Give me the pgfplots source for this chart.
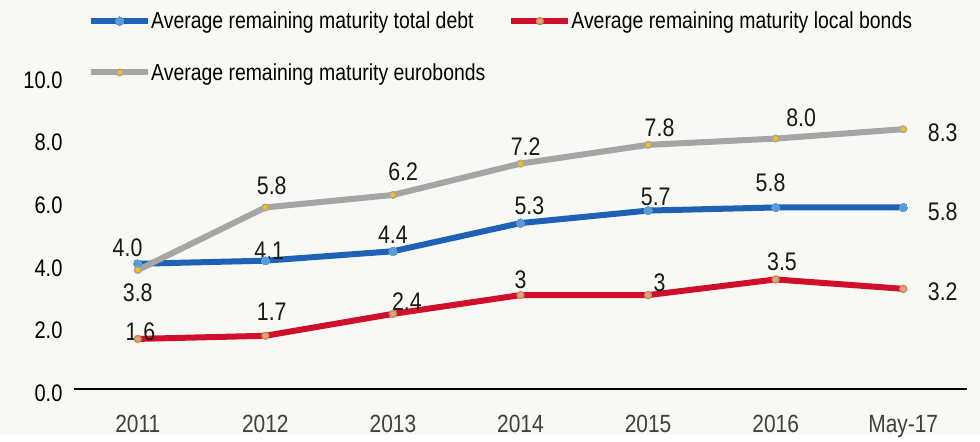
\documentclass[border=0pt]{standalone}
\usepackage{fontspec}
\setmainfont{Liberation Sans}[FakeStretch=0.84]
\usepackage{pgfplots}
\pgfplotsset{compat=1.18}
\definecolor{bg}{HTML}{F8F9F5}
\definecolor{cblue}{HTML}{1F61B4}
\definecolor{cblueM}{HTML}{5B9BD5}
\definecolor{cred}{HTML}{CF0F2C}
\definecolor{corange}{HTML}{ED7D31}
\definecolor{cgrey}{HTML}{A5A5A5}
\definecolor{cgold}{HTML}{FFC000}
\tikzset{lbl/.style={font=\fontsize{25.5}{29}\selectfont, inner sep=0pt, anchor=center, text=black!90}}
\begin{document}
\begin{tikzpicture}
\fill[bg] (-74bp,-46bp) rectangle (906bp,389bp);
\begin{axis}[
 at={(0,0)}, anchor=south west,
 scale only axis, width=893bp, height=313bp,
 xmin=-0.5, xmax=6.5, ymin=0, ymax=10,
 xtick={0,...,6}, xticklabels={2011,2012,2013,2014,2015,2016,May-17},
 ytick={0,2,...,10},
 axis x line*=bottom, axis y line*=left,
 y axis line style={draw=none},
 x axis line style={black, line width=1.3bp, -},
 major tick length=0pt,
 /pgf/number format/assume math mode=true,
 yticklabel style={font=\fontsize{24}{28}\selectfont, xshift=-8bp, yshift=-4bp, /pgf/number format/.cd, fixed, fixed zerofill, precision=1},
 xticklabel style={font=\fontsize{25}{29}\selectfont, text=black!75, yshift=-23bp},
 clip=false,
 legend columns=2,
 legend cell align=left,
 legend style={draw=none, fill=none, inner sep=0pt,
   at={(axis description cs:0.0157,1.205)}, anchor=north west,
   font=\fontsize{23.2}{27}\selectfont,
   nodes={inner sep=0pt, anchor=west},
   row sep=33bp,
   /tikz/every even column/.append style={column sep=23bp},
   /tikz/every odd column/.append style={column sep=0bp}},
 legend image code/.code={\draw[mark repeat=2, mark phase=2, #1] plot coordinates {(0bp,0bp) (28.5bp,0bp) (57bp,0bp)};},
]
\addplot[cblue, line width=6bp, line join=round, mark=*, mark size=4.2bp, mark options={fill=cblueM, draw=cblueM, line width=0pt}]
 coordinates {(0,4.0)(1,4.1)(2,4.4)(3,5.3)(4,5.7)(5,5.8)(6,5.8)};
\addlegendentry{Average remaining maturity total debt}
\addplot[cred, line width=6bp, line join=round, mark=*, mark size=3.5bp, mark options={fill=cgrey!85, draw=corange, line width=1.4bp}]
 coordinates {(0,1.6)(1,1.7)(2,2.4)(3,3.0)(4,3.0)(5,3.5)(6,3.2)};
\addlegendentry{Average remaining maturity local bonds}
\addplot[cgrey, line width=6bp, line join=round, mark=*, mark size=3.3bp, mark options={fill=cgold, draw=cgrey, line width=1.4bp}]
 coordinates {(0,3.8)(1,5.8)(2,6.2)(3,7.2)(4,7.8)(5,8.0)(6,8.3)};
\addlegendentry{Average remaining maturity eurobonds}
% data labels
\node[lbl] at (axis cs:-0.08,4.50) {4.0};
\node[lbl] at (axis cs:1.03,4.41) {4.1};
\node[lbl] at (axis cs:2.0,4.92) {4.4};
\node[lbl] at (axis cs:3.07,5.85) {5.3};
\node[lbl] at (axis cs:4.06,6.13) {5.7};
\node[lbl] at (axis cs:4.96,6.58) {5.8};
\node[lbl] at (axis cs:6.31,5.65) {5.8};
\node[lbl] at (axis cs:0.0,3.07) {3.8};
\node[lbl] at (axis cs:1.05,6.49) {5.8};
\node[lbl] at (axis cs:2.08,6.93) {6.2};
\node[lbl] at (axis cs:3.04,7.73) {7.2};
\node[lbl] at (axis cs:4.09,8.34) {7.8};
\node[lbl] at (axis cs:5.2,8.66) {8.0};
\node[lbl] at (axis cs:6.31,8.18) {8.3};
\node[lbl] at (axis cs:0.02,1.82) {1.6};
\node[lbl] at (axis cs:1.05,2.46) {1.7};
\node[lbl] at (axis cs:2.11,2.78) {2.4};
\node[lbl] at (axis cs:3.0,3.48) {3};
\node[lbl] at (axis cs:4.09,3.39) {3};
\node[lbl] at (axis cs:5.05,4.06) {3.5};
\node[lbl] at (axis cs:6.31,3.10) {3.2};
\end{axis}
\end{tikzpicture}
\end{document}
